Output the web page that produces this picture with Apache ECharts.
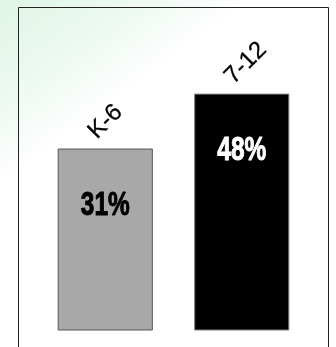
<!DOCTYPE html>
<html>
<head>
<meta charset="utf-8">
<script src="https://cdn.jsdelivr.net/npm/echarts@6/dist/echarts.min.js"></script>
<style>
html,body{margin:0;padding:0;background:#fff;}
#chart{width:336px;height:347px;}
</style>
</head>
<body>
<div id="chart"></div>
<script>
// ---- data ----
const categories = ['K-6', '7-12'];
const values = [31, 48];
const valueLabels = ['31%', '48%'];

// ---- styles ----
const barFills = ['#a8a8a8', '#000000'];
const barStrokes = ['#555555', '#808080'];
const labelColors = ['#000000', '#ffffff'];
const Y_MIN = -25, Y_MAX = 70;

const chart = echarts.init(document.getElementById('chart'), null, {renderer: 'canvas'});

function renderItem(params, api) {
  const i = api.value(0);
  const v = api.value(1);
  const top = api.coord([i, v]);
  const base = api.coord([i, Y_MIN]);
  const band = api.size([1, 0])[0];
  const w = band * 0.69;
  return {
    type: 'group',
    children: [
      {
        type: 'rect',
        shape: {x: top[0] - w / 2, y: top[1], width: w, height: base[1] - top[1]},
        style: {fill: barFills[i], stroke: barStrokes[i], lineWidth: 1}
      },
      {
        type: 'text',
        x: top[0],
        y: top[1] + 57,
        scaleX: 0.74,
        style: {
          text: valueLabels[i],
          align: 'center',
          verticalAlign: 'middle',
          fontFamily: '"Liberation Sans", Arial, sans-serif',
          fontWeight: 'bold',
          fontSize: 33,
          fill: labelColors[i],
          stroke: labelColors[i],
          lineWidth: 1
        }
      },
      {
        type: 'text',
        x: top[0] - 13,
        y: top[1] - 14,
        rotation: Math.PI / 4,
        style: {
          text: categories[i],
          align: 'left',
          verticalAlign: 'middle',
          fontFamily: '"Liberation Sans", Arial, sans-serif',
          fontSize: 24,
          fill: '#000',
          stroke: '#000',
          lineWidth: 0.3
        }
      }
    ]
  };
}

chart.setOption({
  animation: false,
  backgroundColor: '#ffffff',
  graphic: [
    {
      type: 'rect', z: -10, silent: true,
      shape: {x: 0, y: 0, width: 336, height: 347},
      style: {
        fill: {
          type: 'linear', global: true, x: 0, y: 0, x2: 110, y2: 150,
          colorStops: [
            {offset: 0, color: '#dff5e6'},
            {offset: 0.45, color: '#edf9f1'},
            {offset: 0.8, color: '#ffffff'},
            {offset: 1, color: '#ffffff'}
          ]
        }
      }
    },
    {
      type: 'rect', z: 10, silent: true,
      shape: {x: 18.5, y: 7.5, width: 310, height: 350},
      style: {fill: 'none', stroke: '#222', lineWidth: 1}
    }
  ],
  grid: {left: 37, top: 23, width: 273, height: 307},
  xAxis: {type: 'category', data: categories, show: false},
  yAxis: {type: 'value', min: Y_MIN, max: Y_MAX, show: false},
  series: [{
    type: 'custom',
    renderItem: renderItem,
    clip: false,
    encode: {x: 0, y: 1},
    data: values.map((v, i) => [i, v])
  }]
});
</script>
</body>
</html>
